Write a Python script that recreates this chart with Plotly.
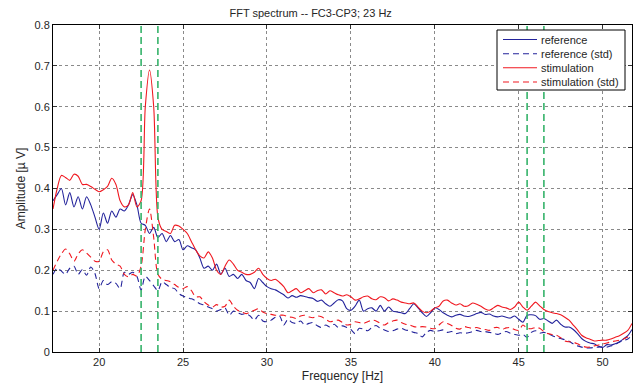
import numpy as np
import plotly.graph_objects as go

# Frequency grid (Hz), 0.25 Hz resolution
freq = np.round(np.arange(17.25, 51.751, 0.25), 2)

stim_mean = [
    0.35, 0.40, 0.432,
    0.427, 0.42, 0.435, 0.43,
    0.41, 0.41, 0.405, 0.398,
    0.392, 0.397, 0.405, 0.425,
    0.41, 0.37, 0.355, 0.36,
    0.39, 0.355, 0.37, 0.60,
    0.69, 0.60, 0.33, 0.30,
    0.295, 0.29, 0.31, 0.308,
    0.30, 0.29, 0.27, 0.25,
    0.235, 0.23, 0.245, 0.23,
    0.20, 0.19, 0.21, 0.225,
    0.215, 0.20, 0.195, 0.19,
    0.19, 0.195, 0.205, 0.19,
    0.18, 0.175, 0.178, 0.17,
    0.16, 0.145, 0.15, 0.155,
    0.145, 0.15, 0.155, 0.145,
    0.15, 0.152, 0.142, 0.15,
    0.145, 0.14, 0.137, 0.14,
    0.135, 0.127, 0.13, 0.135,
    0.137, 0.13, 0.128, 0.135,
    0.133, 0.125, 0.13, 0.127,
    0.122, 0.12, 0.118, 0.12,
    0.11, 0.10, 0.096, 0.10,
    0.108, 0.112, 0.125, 0.127,
    0.12, 0.115, 0.118, 0.112,
    0.113, 0.12, 0.117, 0.112,
    0.105, 0.102, 0.108, 0.114,
    0.11, 0.108, 0.104, 0.11,
    0.122, 0.11, 0.102, 0.112,
    0.122, 0.113, 0.104, 0.099,
    0.096, 0.094, 0.091, 0.085,
    0.078, 0.066, 0.054, 0.041,
    0.035, 0.031, 0.027, 0.028,
    0.029, 0.029, 0.032, 0.036,
    0.04, 0.046, 0.053, 0.07,
]

ref_mean = [
    0.37, 0.385, 0.40,
    0.36, 0.39, 0.355, 0.38,
    0.35, 0.38, 0.36, 0.33,
    0.30, 0.34, 0.315, 0.345,
    0.33, 0.35, 0.345, 0.36,
    0.385, 0.36, 0.315, 0.31,
    0.29, 0.305, 0.28, 0.29,
    0.27, 0.285, 0.27, 0.275,
    0.25, 0.26, 0.255, 0.25,
    0.23, 0.205, 0.21, 0.20,
    0.215, 0.19, 0.205, 0.185,
    0.19, 0.18, 0.19, 0.175,
    0.17, 0.155, 0.18, 0.17,
    0.16, 0.155, 0.152, 0.146,
    0.14, 0.132, 0.138, 0.134,
    0.138, 0.136, 0.133, 0.131,
    0.124, 0.127, 0.118, 0.112,
    0.12, 0.128, 0.125, 0.106,
    0.102, 0.112, 0.127, 0.10,
    0.106, 0.108, 0.10, 0.114,
    0.10, 0.11, 0.10, 0.098,
    0.096, 0.094, 0.106, 0.118,
    0.108, 0.096, 0.087, 0.096,
    0.108, 0.104, 0.096, 0.09,
    0.086, 0.09, 0.092, 0.088,
    0.087, 0.09, 0.094, 0.097,
    0.092, 0.093, 0.088, 0.086,
    0.088, 0.085, 0.083, 0.088,
    0.08, 0.073, 0.09, 0.091,
    0.089, 0.08, 0.082, 0.076,
    0.07, 0.078, 0.068, 0.061,
    0.061, 0.055, 0.045, 0.033,
    0.026, 0.022, 0.02, 0.014,
    0.011, 0.018, 0.017, 0.02,
    0.025, 0.032, 0.04, 0.055,
]

stim_std = [
    0.20, 0.222, 0.24,
    0.252, 0.24, 0.222, 0.24,
    0.25, 0.242, 0.232, 0.222,
    0.222, 0.245, 0.25, 0.225,
    0.215, 0.21, 0.19, 0.184,
    0.19, 0.186, 0.21, 0.30,
    0.35, 0.28, 0.19, 0.178,
    0.175, 0.172, 0.165, 0.158,
    0.155, 0.16, 0.15, 0.135,
    0.135, 0.123, 0.115, 0.11,
    0.116, 0.11, 0.112, 0.127,
    0.112, 0.102, 0.098, 0.094,
    0.098, 0.102, 0.106, 0.098,
    0.094, 0.092, 0.09, 0.09,
    0.09, 0.086, 0.085, 0.082,
    0.088, 0.09, 0.086, 0.084,
    0.088, 0.086, 0.08, 0.074,
    0.076, 0.078, 0.072, 0.066,
    0.068, 0.074, 0.072, 0.07,
    0.074, 0.078, 0.076, 0.07,
    0.066, 0.072, 0.076, 0.078,
    0.072, 0.068, 0.066, 0.062,
    0.061, 0.062, 0.061, 0.058,
    0.057, 0.066, 0.074, 0.07,
    0.065, 0.058, 0.056, 0.062,
    0.06, 0.058, 0.06, 0.057,
    0.055, 0.053, 0.059, 0.06,
    0.055, 0.059, 0.06, 0.055,
    0.053, 0.066, 0.058, 0.057,
    0.06, 0.058, 0.05, 0.045,
    0.043, 0.041, 0.035, 0.027,
    0.025, 0.024, 0.02, 0.015,
    0.012, 0.012, 0.015, 0.017,
    0.02, 0.022, 0.025, 0.027,
    0.029, 0.032, 0.037, 0.042,
]

ref_std = [
    0.19, 0.205, 0.198,
    0.19, 0.205, 0.21, 0.19,
    0.202, 0.188, 0.208, 0.192,
    0.155, 0.175, 0.165, 0.172,
    0.168, 0.155, 0.195, 0.19,
    0.195, 0.185, 0.152, 0.185,
    0.175, 0.162, 0.15, 0.172,
    0.165, 0.158, 0.155, 0.143,
    0.137, 0.133, 0.13, 0.125,
    0.118, 0.115, 0.11, 0.106,
    0.10, 0.104, 0.108, 0.09,
    0.10, 0.096, 0.092, 0.094,
    0.088, 0.078, 0.09, 0.076,
    0.074, 0.078, 0.085, 0.088,
    0.066, 0.08, 0.072, 0.07,
    0.076, 0.066, 0.07, 0.072,
    0.064, 0.06, 0.066, 0.061,
    0.068, 0.06, 0.064, 0.06,
    0.055, 0.045, 0.058, 0.056,
    0.052, 0.06, 0.065, 0.058,
    0.054, 0.05, 0.052, 0.056,
    0.058, 0.054, 0.052, 0.048,
    0.045, 0.037, 0.048, 0.053,
    0.05, 0.052, 0.054, 0.048,
    0.05, 0.045, 0.047, 0.046,
    0.047, 0.05, 0.053, 0.05,
    0.05, 0.048, 0.046, 0.043,
    0.047, 0.05, 0.046, 0.043,
    0.041, 0.043, 0.036, 0.048,
    0.052, 0.046, 0.048, 0.045,
    0.04, 0.036, 0.033, 0.03,
    0.026, 0.02, 0.015, 0.012,
    0.01, 0.01, 0.011, 0.012,
    0.013, 0.012, 0.015, 0.019,
    0.024, 0.028, 0.032, 0.04,
]

band_edges = [22.5, 23.5, 45.5, 46.5]   # stimulation band and harmonic band
x_ticks = [20, 25, 30, 35, 40, 45, 50]
y_ticks = [0, 0.1, 0.2, 0.3, 0.4, 0.5, 0.6, 0.7, 0.8]
series_names = ["reference", "reference (std)", "stimulation", "stimulation (std)"]

BLUE = "#23239b"
RED = "#f01820"
GREEN = "#35b36a"
FONT = "Liberation Sans, Arial, sans-serif"
TXT = "#262626"
DASH = "6px,4px"

fig = go.Figure()
series = [
    (series_names[0], ref_mean, BLUE, "solid"),
    (series_names[1], ref_std, BLUE, DASH),
    (series_names[2], stim_mean, RED, "solid"),
    (series_names[3], stim_std, RED, DASH),
]
for name, vals, col, dash in series:
    fig.add_trace(go.Scatter(
        x=freq, y=vals, name=name, mode="lines", showlegend=False,
        line=dict(color=col, width=1.1, dash=dash, shape="spline", smoothing=0.8),
    ))

for xe in band_edges:
    fig.add_shape(type="line", xref="x", yref="paper", x0=xe, x1=xe, y0=0, y1=1,
                  line=dict(color=GREEN, width=1.6, dash="7px,4px"), layer="above")

# --- compact MATLAB-style legend (box + sample lines + labels) ---
L, R, T, B = 53, 2, 25, 36
W, H = 634, 388
pw, ph = W - L - R, H - T - B
px = lambda x: (x - L) / pw
py = lambda y: 1 - (y - T) / ph

fig.add_shape(type="rect", xref="paper", yref="paper",
              x0=px(497), x1=px(625), y0=py(90), y1=py(30),
              fillcolor="white", line=dict(color="black", width=1), layer="above")
row_y = [39.5, 53.7, 67.8, 82.0]
for (name, _, col, dash), ry in zip(series, row_y):
    fig.add_shape(type="line", xref="paper", yref="paper",
                  x0=px(503), x1=px(537), y0=py(ry), y1=py(ry),
                  line=dict(color=col, width=1.1, dash=dash), layer="above")
    fig.add_annotation(x=px(539), y=py(ry), xref="paper", yref="paper",
                       text=name, showarrow=False, xanchor="left", yanchor="middle",
                       font=dict(family=FONT, size=11, color=TXT))

axis_common = dict(
    showline=True, linecolor="black", linewidth=1, mirror="ticks",
    ticks="inside", ticklen=4, tickcolor="#333333",
    showgrid=True, gridcolor="#8a8a8a", griddash="dot", gridwidth=1,
    zeroline=False, tickfont=dict(family=FONT, size=11, color=TXT),
)

fig.update_layout(
    width=W, height=H,
    margin=dict(l=L, r=R, t=T, b=B),
    paper_bgcolor="white", plot_bgcolor="white",
    font=dict(family=FONT, size=11, color=TXT),
    title=dict(text="FFT spectrum -- FC3-CP3; 23 Hz", x=0.445, xref="paper",
               xanchor="center", y=0.966, yanchor="middle",
               font=dict(family=FONT, size=11, color=TXT)),
    xaxis=dict(range=[17.25, 51.75], tickvals=x_ticks,
               title=dict(text="Frequency [Hz]", standoff=4,
                          font=dict(family=FONT, size=12, color=TXT)),
               **axis_common),
    yaxis=dict(range=[0, 0.8], tickvals=y_ticks, ticktext=[f"{v:g}" for v in y_ticks],
               title=dict(text="Amplitude [µ V]", standoff=6,
                          font=dict(family=FONT, size=12, color=TXT)),
               **axis_common),
    showlegend=False,
)

fig.write_html("out.html")
